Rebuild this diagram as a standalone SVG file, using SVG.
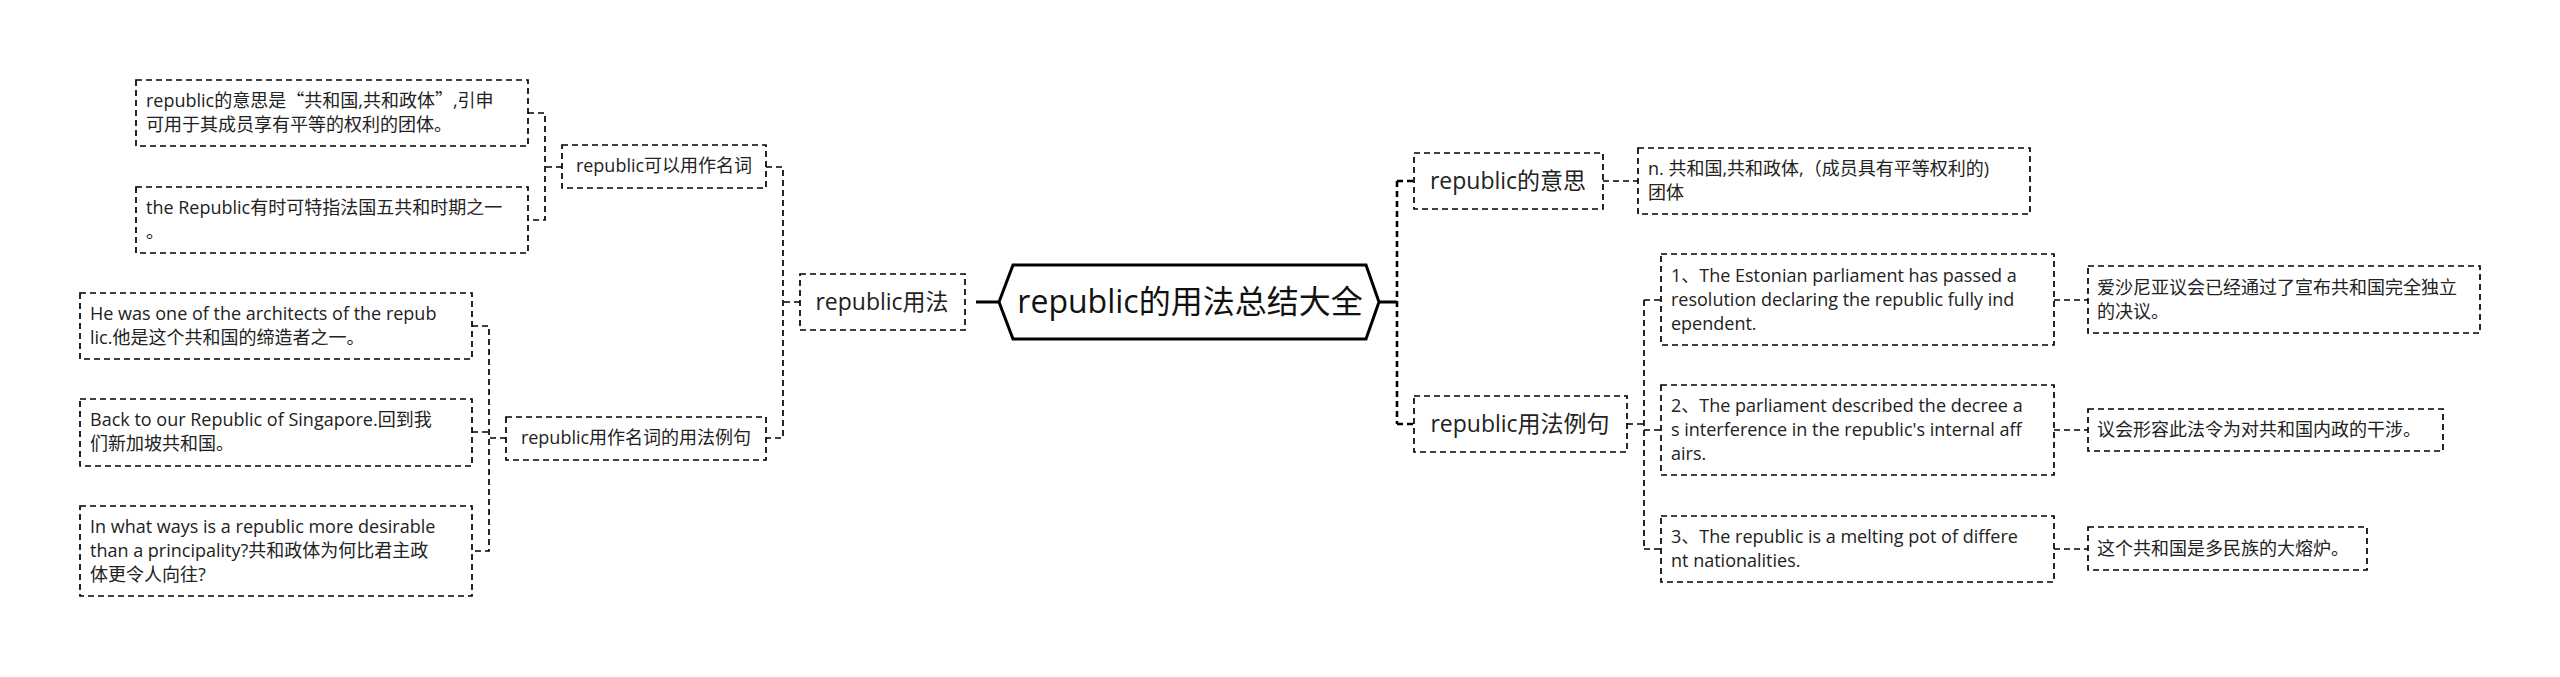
<svg xmlns="http://www.w3.org/2000/svg" width="2560" height="677" viewBox="0 0 2560 677">
<style>
.box{fill:#fff;stroke:#000;stroke-width:1.7;stroke-dasharray:6 4}
.root{fill:#fff;stroke:#000;stroke-width:3}
.t{font-family:"Open Sans","Noto Sans CJK SC",sans-serif;font-size:18px;fill:#222}
.t1{font-family:"Open Sans","Noto Sans CJK SC",sans-serif;font-size:23px;fill:#222;text-anchor:middle}
.t0{font-family:"Open Sans","Noto Sans CJK SC",sans-serif;font-size:32px;fill:#111;text-anchor:middle}
.q{font-family:"Noto Sans CJK SC",sans-serif;font-feature-settings:"fwid"}
.c{fill:none;stroke:#000;stroke-width:1.7;stroke-dasharray:6 4}
.cb{fill:none;stroke:#000;stroke-width:2.6;stroke-dasharray:6 4}
.cs{fill:none;stroke:#000;stroke-width:3}
</style>
<rect width="2560" height="677" fill="#fff"/>
<g id="connectors">
<path class="cs" d="M976 302H999"/>
<path class="c" d="M800 302H783M766 167H783V438H766"/>
<path class="c" d="M562 167H545M528 113H545V220H528"/>
<path class="c" d="M506 438H489M472 326H489V551H472M472 432H489"/>
<path class="cs" d="M1379 302H1397"/>
<path class="cb" d="M1397 181V424M1397 181H1414M1397 424H1414"/>
<path class="c" d="M1603 181H1638"/>
<path class="c" d="M1627 424H1644M1644 300V549M1644 300H1661M1644 430H1661M1644 549H1661"/>
<path class="c" d="M2054 300H2088M2054 430H2088M2054 549H2088"/>
</g>
<g id="root">
<polygon class="root" points="999,302 1013,265 1366,265 1379,302 1366,339 1013,339"/>
<text class="t0" x="1190" y="313">republic的用法总结大全</text>
</g>
<g id="n-usage">
<rect class="box" x="800" y="274" width="165" height="56"/>
<text class="t1" x="882" y="310">republic用法</text>
</g>
<g id="n-noun">
<rect class="box" x="562" y="145" width="204" height="43"/>
<text class="t" x="664" y="172" text-anchor="middle">republic可以用作名词</text>
</g>
<g id="n-a">
<rect class="box" x="136" y="80" width="392" height="66"/>
<text class="t" x="146" y="107">republic的意思是<tspan class="q">“</tspan>共和国,共和政体<tspan class="q">”</tspan>,引申</text>
<text class="t" x="146" y="131">可用于其成员享有平等的权利的团体。</text>
</g>
<g id="n-b">
<rect class="box" x="136" y="187" width="392" height="66"/>
<text class="t" x="146" y="214">the Republic有时可特指法国五共和时期之一</text>
<text class="t" x="146" y="238">。</text>
</g>
<g id="n-examples">
<rect class="box" x="506" y="417" width="260" height="43"/>
<text class="t" x="636" y="444" text-anchor="middle">republic用作名词的用法例句</text>
</g>
<g id="n-d">
<rect class="box" x="80" y="293" width="392" height="66"/>
<text class="t" x="90" y="320">He was one of the architects of the repub</text>
<text class="t" x="90" y="344">lic.他是这个共和国的缔造者之一。</text>
</g>
<g id="n-e">
<rect class="box" x="80" y="399" width="392" height="67"/>
<text class="t" x="90" y="426">Back to our Republic of Singapore.回到我</text>
<text class="t" x="90" y="450">们新加坡共和国。</text>
</g>
<g id="n-f">
<rect class="box" x="80" y="506" width="392" height="90"/>
<text class="t" x="90" y="533">In what ways is a republic more desirable</text>
<text class="t" x="90" y="557">than a principality?共和政体为何比君主政</text>
<text class="t" x="90" y="581">体更令人向往?</text>
</g>
<g id="n-meaning">
<rect class="box" x="1414" y="153" width="189" height="56"/>
<text class="t1" x="1508" y="189">republic的意思</text>
</g>
<g id="n-j">
<rect class="box" x="1638" y="148" width="392" height="66"/>
<text class="t" x="1648" y="175">n. 共和国,共和政体,（成员具有平等权利的)</text>
<text class="t" x="1648" y="199">团体</text>
</g>
<g id="n-sentences">
<rect class="box" x="1414" y="396" width="213" height="56"/>
<text class="t1" x="1520" y="432">republic用法例句</text>
</g>
<g id="n-k1">
<rect class="box" x="1661" y="254" width="393" height="91"/>
<text class="t" x="1671" y="282">1、The Estonian parliament has passed a</text>
<text class="t" x="1671" y="306">resolution declaring the republic fully ind</text>
<text class="t" x="1671" y="330">ependent.</text>
</g>
<g id="n-k2">
<rect class="box" x="1661" y="385" width="393" height="90"/>
<text class="t" x="1671" y="412">2、The parliament described the decree a</text>
<text class="t" x="1671" y="436">s interference in the republic's internal aff</text>
<text class="t" x="1671" y="460">airs.</text>
</g>
<g id="n-k3">
<rect class="box" x="1661" y="516" width="393" height="66"/>
<text class="t" x="1671" y="543">3、The republic is a melting pot of differe</text>
<text class="t" x="1671" y="567">nt nationalities.</text>
</g>
<g id="n-m1">
<rect class="box" x="2088" y="266" width="392" height="67"/>
<text class="t" x="2097" y="294">爱沙尼亚议会已经通过了宣布共和国完全独立</text>
<text class="t" x="2097" y="318">的决议。</text>
</g>
<g id="n-m2">
<rect class="box" x="2088" y="409" width="355" height="42"/>
<text class="t" x="2097" y="436">议会形容此法令为对共和国内政的干涉。</text>
</g>
<g id="n-m3">
<rect class="box" x="2088" y="527" width="279" height="43"/>
<text class="t" x="2097" y="555">这个共和国是多民族的大熔炉。</text>
</g>
</svg>
